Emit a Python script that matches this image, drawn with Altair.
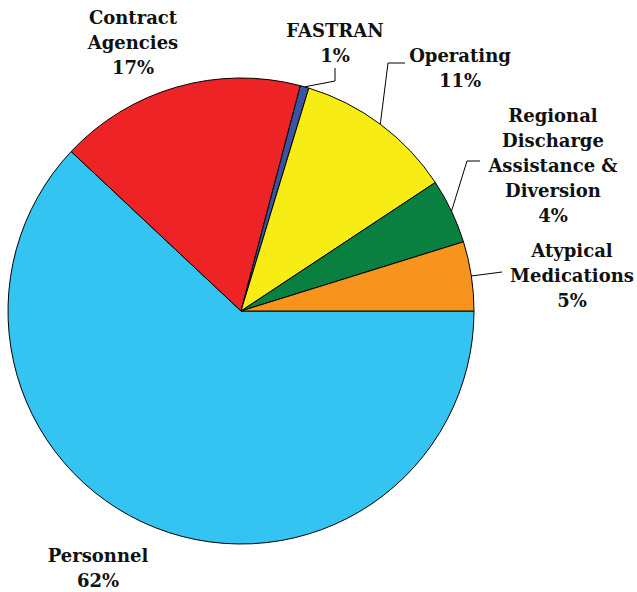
import math
import altair as alt
import pandas as pd

# ---- data ----
categories = ["Personnel", "Contract Agencies", "FASTRAN", "Operating",
              "Regional Discharge Assistance & Diversion", "Atypical Medications"]
values = [62.0, 17.1, 0.6, 11.0, 4.5, 4.8]
pct_labels = ["62%", "17%", "1%", "11%", "4%", "5%"]
label_lines = [
    ["Personnel"],
    ["Contract", "Agencies"],
    ["FASTRAN"],
    ["Operating"],
    ["Regional", "Discharge", "Assistance &", "Diversion"],
    ["Atypical", "Medications"],
]
colors = ["#33C4F2", "#EE2326", "#3A53A4", "#F7EC13", "#0A8040", "#F7941D"]

# ---- layout ----
W, H = 637, 592
CX, CY, R = 241, 311, 233
START = math.pi / 2  # 3 o'clock, slices go clockwise
label_anchor = {  # (center x, first baseline y)
    "Personnel": (98, 562),
    "Contract Agencies": (133, 24),
    "FASTRAN": (335, 37),
    "Operating": (460, 62),
    "Regional Discharge Assistance & Diversion": (553, 122),
    "Atypical Medications": (572, 257),
}
leader_path = {  # elbow and end points after the slice mid-point
    "FASTRAN": [(335, 81), (335, 68)],
    "Operating": [(388, 63), (405, 63)],
    "Regional Discharge Assistance & Diversion": [(467, 161), (480, 161)],
    "Atypical Medications": [(502, 272)],
}

df = pd.DataFrame({"category": categories, "value": values,
                   "idx": list(range(len(categories)))})

pie = alt.Chart(df).mark_arc(outerRadius=R, stroke="black", strokeWidth=1).encode(
    theta=alt.Theta("value:Q", stack=True,
                    scale=alt.Scale(range=[START, START + 2 * math.pi])),
    order=alt.Order("idx:Q"),
    color=alt.Color("category:N", scale=alt.Scale(domain=categories, range=colors),
                    legend=None),
    x=alt.value(CX),
    y=alt.value(CY),
)

# leader lines start at slice mid-angles
total = sum(values)
rows = []
cum = 0.0
for cat, v in zip(categories, values):
    mid = START + 2 * math.pi * (cum + v / 2) / total
    cum += v
    if cat in leader_path:
        pts = [(CX + R * math.sin(mid), CY - R * math.cos(mid))] + leader_path[cat]
        for k, (px, py) in enumerate(pts):
            rows.append({"name": cat, "k": k, "px": px, "py": py})
leaders = alt.Chart(pd.DataFrame(rows)).mark_line(color="black", strokeWidth=1).encode(
    x=alt.X("px:Q", scale=None, axis=None),
    y=alt.Y("py:Q", scale=None, axis=None),
    detail="name:N",
    order="k:Q",
)

lab_rows = []
for cat, lines, p in zip(categories, label_lines, pct_labels):
    ax, ay = label_anchor[cat]
    lab_rows.append({"txt": "\n".join(lines + [p]), "lx": ax, "ly": ay})
labels = alt.Chart(pd.DataFrame(lab_rows)).mark_text(
    font="DejaVu Serif", fontWeight="bold", fontSize=18, lineBreak="\n",
    lineHeight=25, align="center", baseline="alphabetic", color="#111111",
).encode(
    x=alt.X("lx:Q", scale=None, axis=None),
    y=alt.Y("ly:Q", scale=None, axis=None),
    text="txt:N",
)

chart = alt.layer(pie, leaders, labels).properties(
    width=W, height=H, autosize=alt.AutoSizeParams(type="none"), padding=0,
    background="white",
).configure_view(stroke=None)

chart.save("out.html", embed_options={"renderer": "svg", "actions": False})
